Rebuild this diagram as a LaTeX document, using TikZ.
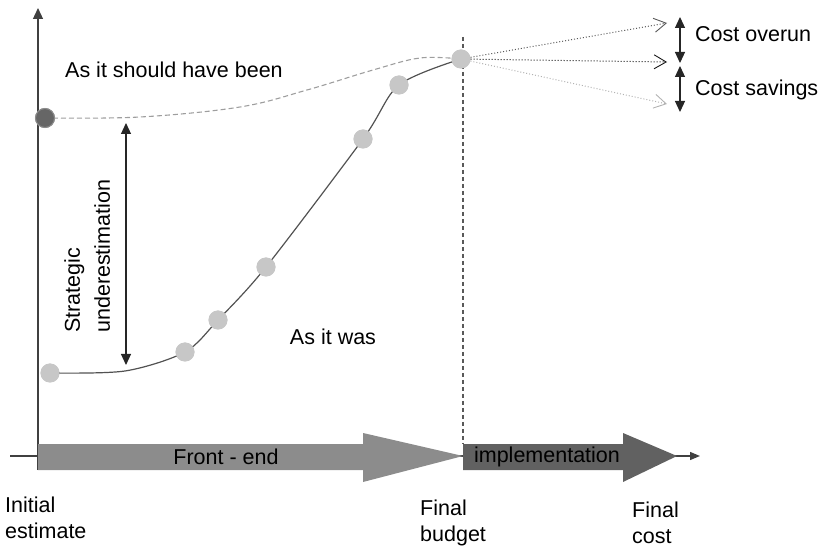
\documentclass[tikz,border=0pt]{standalone}
\usepackage{fontspec}
\setmainfont{Liberation Sans}
\usetikzlibrary{arrows.meta}
\begin{document}
\begin{tikzpicture}[x=1pt,y=-1pt,
  lbl/.style={font=\fontsize{21.5}{26}\selectfont, inner sep=0pt},
  lbl2/.style={font=\fontsize{21.5}{26}\selectfont, inner sep=0pt, align=left, anchor=north west},
  dot/.style={circle, fill=black!22, minimum size=19pt, inner sep=0pt},
  darkdot/.style={circle, fill=black!60, draw=black!45, line width=1pt, minimum size=19pt, inner sep=0pt},
  axis/.style={draw=black!75, line width=1.2pt},
  solidtip/.style={-{Triangle[length=11pt,width=10pt]}},
  bothtips/.style={{Triangle[length=11pt,width=10pt]}-{Triangle[length=11pt,width=10pt]}},
  fan/.style={dotted, line width=1pt, -{Straight Barb[length=12pt,width=14pt,line width=0.9pt]}}
]
\useasboundingbox (0,0) rectangle (823,548);

% axes
\draw[axis, solidtip] (38,470) -- (38,8);
\draw[axis, -{Triangle[length=10pt,width=8pt]}] (10,456) -- (700,456);

% phase block arrows
\fill[black!45] (38,444) -- (363,444) -- (363,433) -- (463,456) -- (363,482) -- (363,470) -- (38,470) -- cycle;
\fill[black!62] (463,444) -- (623,444) -- (623,433) -- (677,456) -- (623,482) -- (623,470) -- (463,470) -- cycle;
\node[lbl] (frontend) at (226,457) {Front - end};
\node[lbl] (impl) at (547,457) {implementation};

% budget line
\draw[black!65, line width=1.5pt, dash pattern=on 4pt off 3pt] (463,37) -- (463,444);

% nodes on the curves
\node[darkdot] (start) at (45,118) {};
\node[dot] (p0) at (50,373) {};
\node[dot] (p1) at (185,352) {};
\node[dot] (p2) at (218,320) {};
\node[dot] (p3) at (266,267) {};
\node[dot] (p4) at (363,139) {};
\node[dot] (p5) at (399,85) {};
\node[dot] (fb) at (461,59) {};

\coordinate (f0) at (125,371);
\coordinate (d1) at (140,117);
\coordinate (d2) at (240,107);
\coordinate (d3) at (307,90);
\coordinate (d4) at (373,70);
\coordinate (d5) at (420,58);

% as it should have been
\draw[black!38, line width=1.1pt, dash pattern=on 5pt off 3pt]
  plot[smooth, tension=0.6] coordinates {(start.center) (d1) (d2) (d3) (d4) (d5) (fb.center)};
% as it was
\draw[black!68, line width=1.2pt]
  plot[smooth, tension=0.5] coordinates {(p0.center) (f0) (p1.center) (p2.center) (p3.center) (p4.center) (p5.center) (fb.center)};

% redraw dots above the curves
\node[darkdot] at (start) {};
\foreach \n in {p0,p1,p2,p3,p4,p5,fb} \node[dot] at (\n) {};

% outcome fan
\coordinate (over) at (667,23);
\coordinate (exact) at (667,62);
\coordinate (under) at (667,104);
\draw[fan, black!65] (fb) -- (over);
\draw[fan, black!90] (fb) -- (exact);
\draw[fan, black!30] (fb) -- (under);

\coordinate (o1) at (680,17);
\coordinate (o2) at (680,63);
\coordinate (s1) at (680,66);
\coordinate (s2) at (680,112);
\draw[black!85, line width=1.2pt, bothtips] (o1) -- (o2);
\draw[black!85, line width=1.2pt, bothtips] (s1) -- (s2);
\node[lbl, anchor=west] (overrun) at (695,34) {Cost overun};
\node[lbl, anchor=west] (savings) at (695,90) {Cost savings};

% underestimation gap
\coordinate (g1) at (126,123);
\coordinate (g2) at (126,365);
\draw[black!85, line width=1.2pt, bothtips] (g1) -- (g2);
\node[lbl, font=\fontsize{21.5}{30}\selectfont, rotate=90, align=left, anchor=north west] (gap) at (64,333) {Strategic\\underestimation};

% curve labels
\node[lbl, anchor=west] (should) at (65,70) {As it should have been};
\node[lbl] (was) at (333,337) {As it was};

% time axis labels
\node[lbl2] (initial) at (5,497) {Initial\\estimate};
\node[lbl2] (budget) at (420,500) {Final\\budget};
\node[lbl2] (cost) at (632,502) {Final\\cost};
\end{tikzpicture}
\end{document}
